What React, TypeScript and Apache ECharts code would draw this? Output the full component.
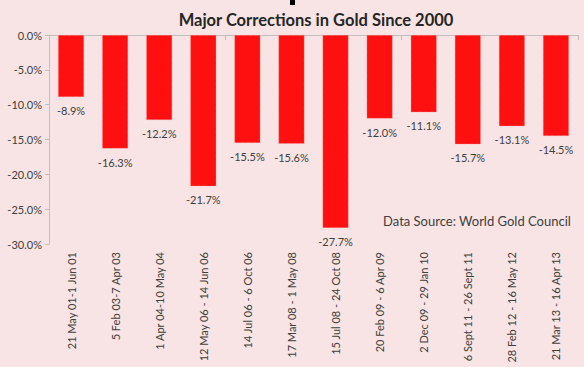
import React, { useEffect, useRef } from "react";
import * as echarts from "echarts";

const categories = [
  "21 May 01-1 Jun 01",
  "5 Feb 03-7 Apr 03",
  "1 Apr 04-10 May 04",
  "12 May 06 - 14 Jun 06",
  "14 Jul 06 - 6 Oct 06",
  "17 Mar 08 - 1 May 08",
  "15 Jul 08 - 24 Oct 08",
  "20 Feb 09 - 6 Apr 09",
  "2 Dec 09 - 29 Jan 10",
  "6 Sept 11 - 26 Sept 11",
  "28 Feb 12 - 16 May 12",
  "21 Mar 13 - 16 Apr 13",
];
const corrections = [-8.9, -16.3, -12.2, -21.7, -15.5, -15.6, -27.7, -12.0, -11.1, -15.7, -13.1, -14.5];
const titleText = "Major Corrections in Gold Since 2000";
const sourceText = "Data Source: World Gold Council";

const FONT = "Lato, 'Open Sans', sans-serif";

export default function App() {
  const ref = useRef<HTMLDivElement>(null);
  useEffect(() => {
    if (!ref.current) return;
    const chart = echarts.init(ref.current, undefined, { renderer: "svg" });
    chart.setOption({
      animation: false,
      backgroundColor: "#F8E4E4",
      title: {
        text: titleText,
        left: 311,
        top: 6,
        textAlign: "center",
        textStyle: { fontFamily: FONT, fontSize: 16.5, fontWeight: "bold", color: "#262626" },
      },
      grid: { left: 49, right: 6, top: 35, bottom: 123, containLabel: false },
      xAxis: [
        {
          type: "category",
          data: categories,
          position: "bottom",
          axisLine: { show: false },
          axisTick: { show: false },
          axisLabel: {
            rotate: 90,
            interval: 0,
            margin: 8,
            fontFamily: FONT,
            fontSize: 11,
            color: "#404040",
          },
        },
        {
          type: "category",
          data: categories,
          position: "top",
          axisLine: { show: true, onZero: false, lineStyle: { color: "#BFBFBF", width: 1 } },
          axisTick: { show: true, inside: true, length: 5, lineStyle: { color: "#BFBFBF" } },
          axisLabel: { show: false },
        },
      ],
      yAxis: {
        type: "value",
        min: -30,
        max: 0,
        interval: 5,
        axisLine: { show: true, lineStyle: { color: "#BFBFBF" } },
        axisTick: { show: true, length: 4, lineStyle: { color: "#BFBFBF" } },
        splitLine: { show: false },
        axisLabel: {
          formatter: (v: number) => v.toFixed(1) + "%",
          fontFamily: FONT,
          fontSize: 11,
          color: "#404040",
          margin: 7,
        },
      },
      series: [
        {
          type: "bar",
          data: corrections,
          barWidth: 26,
          itemStyle: { color: "#FF1010", borderColor: "#F5A0A0", borderWidth: 0.6, borderType: "dotted" },
          label: {
            show: true,
            position: "bottom",
            distance: 8,
            formatter: (p: any) => p.value.toFixed(1) + "%",
            fontFamily: FONT,
            fontSize: 11,
            color: "#404040",
          },
        },
      ],
      graphic: [
        {
          type: "text",
          right: 13,
          top: 214,
          style: { text: sourceText, fontFamily: FONT, fontSize: 13, fill: "#404040" },
        },
        {
          type: "rect",
          shape: { x: 290, y: 0, width: 5, height: 5 },
          style: { fill: "#000000" },
        },
      ],
    });
    return () => chart.dispose();
  }, []);
  return <div ref={ref} style={{ position: "absolute", left: 0, top: 0, width: 584, height: 367 }} />;
}
